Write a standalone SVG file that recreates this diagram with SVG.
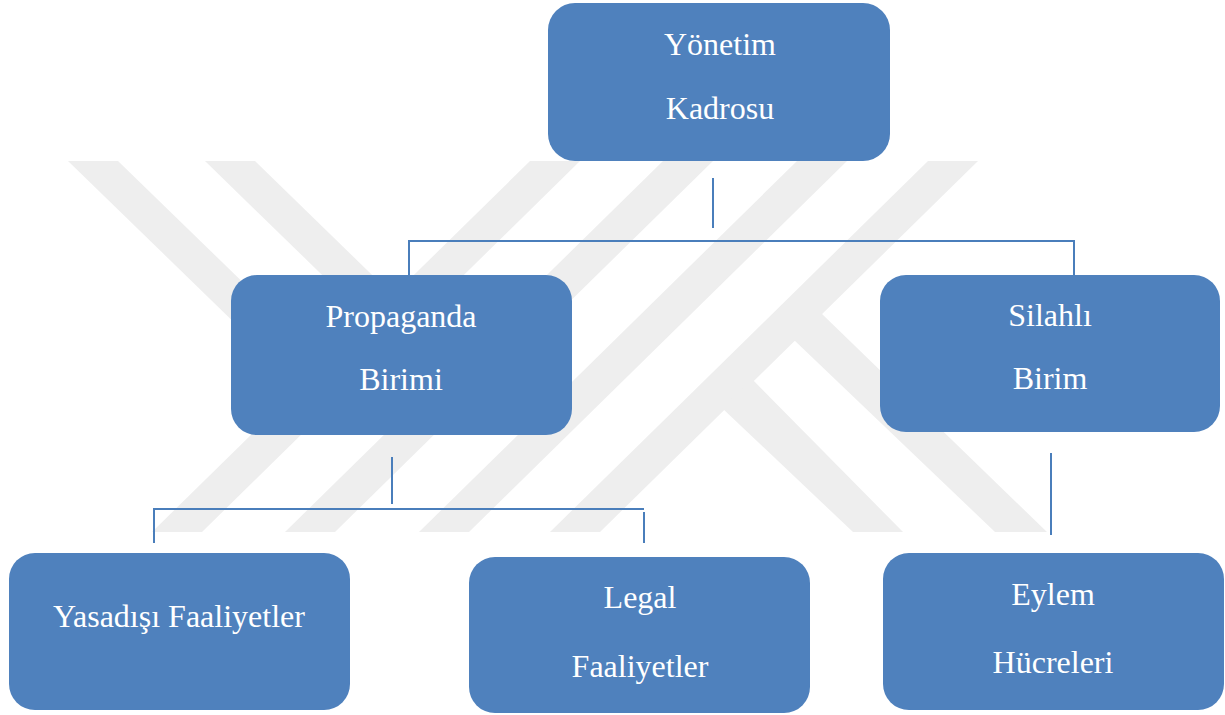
<svg xmlns="http://www.w3.org/2000/svg" width="1225" height="715" viewBox="0 0 1225 715">
<style>
.wm{fill:#eeeeee}
.box{fill:#4f81bd}
.lbl{font-family:"Liberation Serif","Times New Roman",serif;font-size:32px;fill:#ffffff;text-anchor:middle}
.con{stroke:#4a7ebb;stroke-width:2;fill:none}
</style>
<rect width="1225" height="715" fill="#ffffff"/>
<g id="watermark">
<polygon class="wm" points="68,161 118,161 364,400 314,400"/>
<polygon class="wm" points="205,161 255,161 480,380 430,380"/>
<polygon class="wm" points="152,532 202,532 580,161 530,161"/>
<polygon class="wm" points="285,532 335,532 713,161 663,161"/>
<polygon class="wm" points="419,532 469,532 847,161 797,161"/>
<polygon class="wm" points="550,532 600,532 978,161 928,161"/>
<polygon class="wm" points="722,408 752,379 903,532 853,532"/>
<polygon class="wm" points="794,340 821,313 1047,532 995,532"/>
</g>
<g id="connectors">
<line class="con" x1="713" y1="178" x2="713" y2="228"/>
<polyline class="con" points="409,275 409,241 1074,241 1074,275"/>
<line class="con" x1="392" y1="457" x2="392" y2="504"/>
<polyline class="con" points="154,543 154,509 644,509"/>
<line class="con" x1="644" y1="512" x2="644" y2="543"/>
<line class="con" x1="1051" y1="453" x2="1051" y2="535"/>
</g>
<g id="node-yonetim">
<rect class="box" x="548" y="3" width="342" height="158" rx="27"/>
<text class="lbl" x="720" y="55">Yönetim</text>
<text class="lbl" x="720" y="119">Kadrosu</text>
</g>
<g id="node-propaganda">
<rect class="box" x="231" y="275" width="341" height="160" rx="26"/>
<text class="lbl" x="401" y="327">Propaganda</text>
<text class="lbl" x="401" y="390">Birimi</text>
</g>
<g id="node-silahli">
<rect class="box" x="880" y="275" width="340" height="157" rx="26"/>
<text class="lbl" x="1050" y="326">Silahlı</text>
<text class="lbl" x="1050" y="389">Birim</text>
</g>
<g id="node-yasadisi">
<rect class="box" x="9" y="553" width="341" height="157" rx="26"/>
<text class="lbl" x="179" y="627">Yasadışı Faaliyetler</text>
</g>
<g id="node-legal">
<rect class="box" x="469" y="557" width="341" height="156" rx="26"/>
<text class="lbl" x="640" y="608">Legal</text>
<text class="lbl" x="640" y="677">Faaliyetler</text>
</g>
<g id="node-eylem">
<rect class="box" x="883" y="553" width="341" height="157" rx="26"/>
<text class="lbl" x="1053" y="605">Eylem</text>
<text class="lbl" x="1053" y="673">Hücreleri</text>
</g>
</svg>
